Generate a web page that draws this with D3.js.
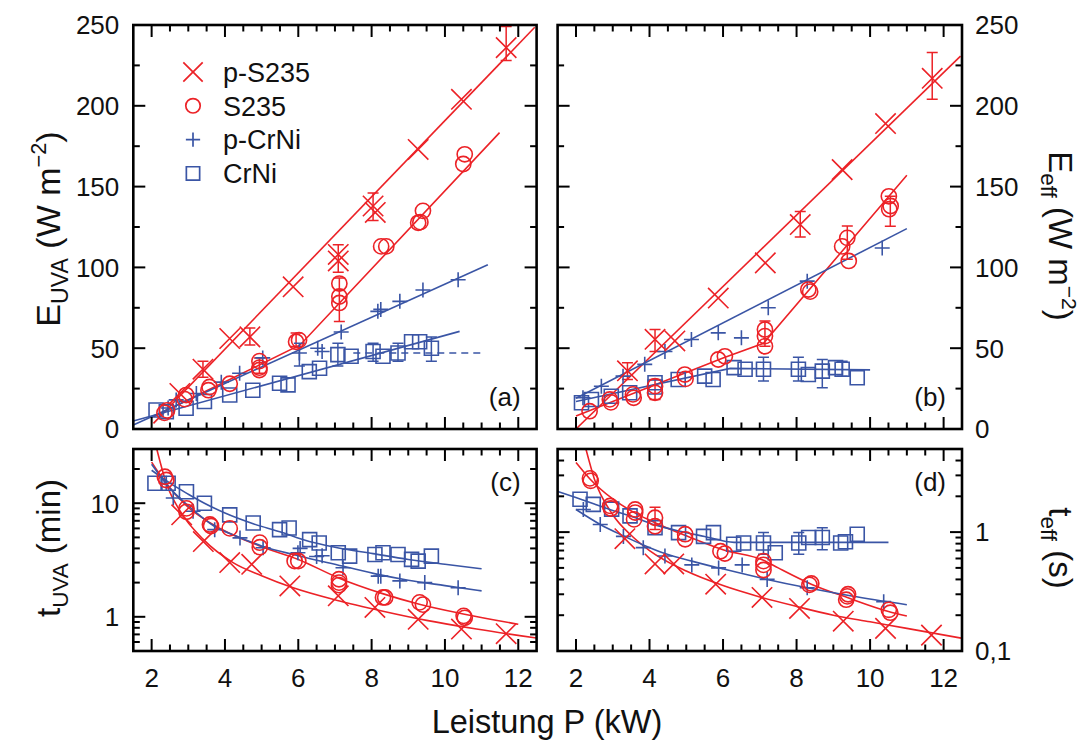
<!DOCTYPE html>
<html><head><meta charset="utf-8">
<script src="https://cdn.jsdelivr.net/npm/d3@7"></script>
<style>
body{margin:0;background:#fff}
svg{display:block}
text{font-family:"Liberation Sans",Arial,Helvetica,sans-serif;fill:#111}
</style>
</head><body>
<svg id="chart" width="1092" height="740"></svg>
<script>
// ---------------- DATA ----------------
const xTickLabels = [2,4,6,8,10,12];
const xMinorStep = 0.5;
const yLinTicks = [0,50,100,150,200,250];
const yLinMinor = [25,75,125,175,225];
const cLogMajor = [1,10], cLogMinor = [0.5,0.6,0.7,0.8,0.9,2,3,4,5,6,7,8,9,20,30];
const dLogMajor = [0.1,1], dLogMinor = [0.2,0.3,0.4,0.5,0.6,0.7,0.8,0.9,2,3,4,5];
const legendLabels = ["p-S235","S235","p-CrNi","CrNi"];

// panel (a): E_UVA
const aPS235 = [[2.77,22],[3.4,37],[4.13,56],[4.68,57],[5.86,88],[7.09,108],[7.09,104],[8.04,138],[8.1,134],[9.27,173],[10.45,204],[11.67,236]];
const aPS235Err = [[3.4,32,42],[4.68,52,62.5],[7.09,97,114],[8.04,129,146],[11.67,228,249]];
const aS235 = [[2.35,10],[2.42,11.5],[2.94,21],[2.9,18.5],[3.58,26],[3.55,24],[4.13,28],[4.94,42],[4.94,38],[4.94,36.5],[5.94,54],[6.02,55],[7.12,90],[7.12,82],[7.12,78],[8.26,113],[8.4,113],[9.27,127.6],[9.33,128],[9.4,135],[10.54,170],[10.5,164]];
const aS235Err = [[4.94,34.5,44],[5.94,51,59.4],[7.12,66.5,93.5]];
const aPCrNi = [[2.45,13],[2.67,18],[3.22,22],[3.9,29],[4.4,34.5],[5.03,44],[6.03,47],[6.53,50],[6.65,48],[7.17,60],[8.17,72.8],[8.25,74],[8.77,79],[9.4,86],[10.36,92.4]];
const aPCrNiErr = [[6.03,39,53]];
const aCrNi = [[2.12,11.8],[2.4,10.7],[2.94,12.8],[3.44,17],[4.13,21],[4.76,24],[5.49,28.3],[5.72,27.3],[6.3,35.5],[6.58,37.6],[7.08,46],[7.44,45],[8.04,48],[8.31,45],[8.72,47],[9.09,54],[9.31,54],[9.63,50]];
const aCrNiErr = [[7.08,39,53],[8.04,42,53],[8.72,42,53],[9.63,42,57]];
const aFitPS235 = [[2.05,3.5],[12.45,248.6]];
const aFitS235 = [[2.05,7.6],[6.05,52],[11.49,183.4]];
const aFitPCrNi = [[1.5,2.5],[11.17,101.7]];
const aFitCrNi = [[1.5,5],[10.4,60.4]];
const aFitCrNiDash = [[7.5,47],[11.0,47]];

// panel (b): E_eff
const bPS235 = [[3.4,36],[4.15,55.5],[4.69,54.5],[5.87,81],[7.15,102.8],[8.1,126.5],[9.24,160.5],[10.42,189],[11.69,217]];
const bPS235Err = [[3.4,30.7,41],[4.15,48,61.6],[8.1,118.8,134.6],[11.69,204,233]];
const bS235 = [[2.37,11],[2.92,18.3],[2.95,16.5],[3.55,21.4],[3.57,19.3],[4.15,26.5],[4.15,22.4],[4.96,33.7],[4.98,31],[5.87,43],[6.05,45],[7.14,61.6],[7.14,57.5],[7.14,51.2],[8.32,86.3],[8.37,85],[9.24,113],[9.38,118.3],[9.42,104],[10.51,144],[10.56,138],[10.52,136]];
const bS235Err = [[4.15,18.3,30.6],[7.14,51.2,66.9],[9.38,105,125.6],[10.55,125.5,144]];
const bPCrNi = [[2.19,19.3],[2.69,26.5],[3.28,32.7],[3.87,40],[4.42,48],[5.14,55.4],[5.87,59.5],[6.5,56.4],[7.23,75],[8.29,91.5],[10.33,112]];
const bCrNi = [[2.15,16.2],[2.42,18.3],[2.96,20.3],[3.46,22.4],[4.15,28.6],[4.15,26],[4.78,30.6],[5.5,32.7],[5.73,30.6],[6.3,38],[6.6,37],[7.1,37],[8.05,37],[8.32,33.7],[8.7,35.8],[9.06,38],[9.24,37],[9.65,31.7]];
const bCrNiErr = [[7.1,29.7,44.4],[8.05,29.7,44.4],[8.7,25.5,43],[9.24,32.7,42]];
const bFitPS235 = [[2.0,0],[12.46,230.7]];
const bFitS235 = [[2.0,8],[6.0,44],[7.1,53],[11.0,157]];
const bFitPCrNi = [[2.0,19],[11.0,124]];
const bFitCrNi = [[2.0,17],[6.2,37.5],[10.0,36.6]];

// panel (c): t_UVA (min)
const cPS235 = [[2.82,7.9],[3.41,4.6],[4.13,3.0],[4.73,2.9],[5.77,1.87],[7.09,1.53],[8.09,1.21],[9.27,0.95],[10.45,0.78],[11.67,0.71]];
const cS235 = [[2.36,17.1],[2.4,16],[2.95,9.0],[2.95,8.4],[3.59,6.5],[3.62,6.3],[4.13,6.0],[4.95,4.5],[4.95,4.1],[5.9,3.1],[6.0,3.1],[7.11,2.14],[7.11,1.9],[7.11,2.0],[8.31,1.48],[8.37,1.48],[9.31,1.34],[9.4,1.28],[10.51,1.02],[10.54,0.98]];
const cPCrNi = [[2.4,15],[2.59,11.1],[3.13,8.5],[3.72,5.85],[4.41,4.95],[5.04,4.05],[5.99,3.66],[6.05,4.0],[6.5,3.4],[6.65,3.45],[7.22,2.7],[8.18,2.28],[8.25,2.28],[8.77,2.07],[9.45,2.0],[10.36,1.8]];
const cCrNi = [[2.09,15],[2.45,15],[2.95,12.6],[3.44,10],[4.13,7.9],[4.77,6.7],[5.49,5.85],[5.75,6.05],[6.31,4.78],[6.57,4.47],[7.09,3.66],[7.4,3.42],[8.09,3.54],[8.31,3.66],[8.72,3.54],[9.09,3.2],[9.27,3.09],[9.63,3.42]];
const cFitPS235 = [[2.14,30],[2.4,15],[2.77,8.6],[3.41,4.8],[4.22,3.0],[5.0,2.3],[5.86,1.8],[7.04,1.4],[8.31,1.12],[9.5,0.93],[10.86,0.78],[12.5,0.65]];
const cFitS235 = [[2.0,23],[2.36,15.5],[2.95,9.5],[3.6,6.7],[4.95,4.2],[6.0,3.2],[7.1,2.2],[8.3,1.6],[9.3,1.29],[10.5,1.06],[12.0,0.86]];
const cFitPCrNi = [[2.0,22],[2.5,13.5],[3.0,9.5],[3.7,6.3],[4.4,5.0],[5.0,4.2],[6.0,3.45],[7.2,2.8],[8.2,2.35],[9.0,2.1],[10.0,1.88],[11.0,1.69]];
const cFitCrNi = [[2.0,19.5],[2.5,15],[3.0,12],[3.44,10],[4.0,8.2],[4.77,6.6],[5.5,5.6],[6.3,4.6],[7.0,4.1],[8.04,3.6],[9.0,3.2],[10.0,2.9],[11.0,2.65]];

// panel (d): t_eff (s)
const dPS235 = [[3.33,0.88],[4.15,0.54],[4.66,0.54],[5.8,0.365],[7.06,0.282],[8.08,0.228],[9.27,0.178],[10.42,0.155],[11.67,0.136]];
const dS235 = [[2.38,2.83],[2.4,2.7],[2.93,1.66],[2.95,1.58],[3.61,1.46],[3.61,1.55],[3.58,1.28],[4.15,1.32],[4.15,1.12],[4.97,0.96],[4.97,0.87],[5.93,0.69],[6.05,0.66],[7.1,0.57],[7.1,0.53],[7.1,0.48],[8.35,0.36],[8.4,0.37],[9.38,0.288],[9.35,0.27],[9.4,0.3],[10.51,0.222],[10.55,0.21]];
const dS235Err = [[4.15,1.05,1.62]];
const dPCrNi = [[2.2,1.55],[2.66,1.16],[3.29,0.92],[3.83,0.74],[4.42,0.63],[5.15,0.53],[5.88,0.5],[6.52,0.53],[7.2,0.4],[8.29,0.34],[10.37,0.26]];
const dCrNi = [[2.11,1.89],[2.47,1.71],[2.97,1.56],[3.47,1.37],[4.15,1.09],[4.79,0.99],[5.47,0.92],[5.74,0.99],[6.29,0.79],[6.56,0.81],[7.1,0.81],[7.42,0.67],[8.06,0.81],[8.33,0.9],[8.7,0.9],[9.2,0.81],[9.33,0.83],[9.65,0.96]];
const dCrNiErr = [[7.1,0.65,0.99],[8.06,0.65,0.99],[8.7,0.71,1.09]];
const dFitPS235 = [[2.27,5],[2.5,2.8],[3.0,1.4],[3.5,0.94],[4.0,0.7],[5.0,0.47],[6.0,0.355],[7.0,0.285],[8.0,0.237],[9.0,0.2],[10.0,0.176],[11.0,0.155],[12.5,0.128]];
const dFitS235 = [[2.0,3.85],[2.38,2.8],[3.0,1.9],[3.6,1.45],[4.15,1.2],[5.0,0.93],[6.0,0.71],[7.1,0.58],[7.5,0.5],[8.4,0.365],[9.4,0.28],[10.5,0.215],[11.0,0.197]];
const dFitPCrNi = [[2.0,1.55],[2.66,1.16],[3.29,0.93],[3.83,0.78],[4.42,0.66],[5.15,0.57],[6.0,0.49],[7.2,0.4],[8.29,0.34],[9.5,0.29],[11.0,0.245]];
const dFitCrNi = [[1.5,2.2],[2.11,1.9],[2.5,1.72],[3.0,1.52],[3.5,1.36],[4.15,1.15],[4.8,1.02],[5.5,0.92],[6.3,0.82],[10.5,0.82]];

// ---------------- DRAW ----------------
const RED = "#ec2227", BLUE = "#3a55a5";
const svg = d3.select("#chart");
const defs = svg.append("defs");

function symPath(type, x, y, s){
  if(type==="x"){const h=10.2*s;return `M${x-h},${y-h}L${x+h},${y+h}M${x-h},${y+h}L${x+h},${y-h}`;}
  if(type==="+"){const h=7.5*s;return `M${x-h},${y}L${x+h},${y}M${x},${y-h}L${x},${y+h}`;}
  if(type==="o"){const r=7.6*s;return `M${x-r},${y}a${r},${r} 0 1,0 ${2*r},0a${r},${r} 0 1,0 ${-2*r},0`;}
  if(type==="s"){const h=7*s;return `M${x-h},${y-h}H${x+h}V${y+h}H${x-h}Z`;}
}

function panel(id, px, py, yType, yDom, cfg){
  const xs = d3.scaleLinear().domain([1.5,12.5]).range(px);
  const ys = (yType==="lin"? d3.scaleLinear() : d3.scaleLog()).domain(yDom).range(py);
  const g = svg.append("g");
  defs.append("clipPath").attr("id","clip"+id).append("rect")
    .attr("x",px[0]).attr("y",py[1]).attr("width",px[1]-px[0]).attr("height",py[0]-py[1]);
  const plot = g.append("g").attr("clip-path",`url(#clip${id})`);
  const line = d3.line().x(d=>xs(d[0])).y(d=>ys(d[1]));
  const curve = d3.line().x(d=>xs(d[0])).y(d=>ys(d[1])).curve(d3.curveMonotoneX);
  (cfg.fits||[]).forEach(f=>{
    plot.append("path").datum(f.data).attr("d", f.smooth?curve:line)
      .attr("fill","none").attr("stroke",f.color).attr("stroke-width",1.6)
      .attr("stroke-dasharray", f.dash?"7,5":null);
  });
  (cfg.errs||[]).forEach(e=>{
    const eg = plot.append("g").attr("stroke",e.color).attr("stroke-width",1.5).attr("fill","none");
    eg.selectAll("path").data(e.data).join("path").attr("d",d=>{
      const x=xs(d[0]), y0=ys(d[1]), y1=ys(d[2]);
      return `M${x},${y0}V${y1}M${x-5.5},${y0}H${x+5.5}M${x-5.5},${y1}H${x+5.5}`;
    });
  });
  (cfg.series||[]).forEach(s=>{
    plot.append("g").selectAll("path").data(s.data).join("path")
      .attr("d",d=>symPath(s.type, xs(d[0]), ys(d[1]), 1))
      .attr("fill","none").attr("stroke",s.color).attr("stroke-width",1.6);
  });
  // ticks
  const tg = g.append("g").attr("stroke","#000").attr("stroke-width",2);
  const xt = d3.range(2, 12.001, xMinorStep);
  xt.forEach(v=>{
    const L = xTickLabels.includes(v)?12:6.5, x=xs(v);
    tg.append("line").attr("x1",x).attr("x2",x).attr("y1",py[0]).attr("y2",py[0]-L);
    tg.append("line").attr("x1",x).attr("x2",x).attr("y1",py[1]).attr("y2",py[1]+L);
  });
  cfg.yMajor.concat(cfg.yMinor).forEach(v=>{
    const L = cfg.yMajor.includes(v)?12:6.5, y=ys(v);
    tg.append("line").attr("x1",px[0]).attr("x2",px[0]+L).attr("y1",y).attr("y2",y);
    tg.append("line").attr("x1",px[1]).attr("x2",px[1]-L).attr("y1",y).attr("y2",y);
  });
  g.append("rect").attr("x",px[0]).attr("y",py[1]).attr("width",px[1]-px[0]).attr("height",py[0]-py[1])
    .attr("fill","none").attr("stroke","#000").attr("stroke-width",2.6);
  // y labels
  const lab = g.append("g").attr("font-size",26);
  cfg.yLabels.forEach(v=>{
    lab.append("text").attr("x", cfg.labelSide==="left"? px[0]-14 : px[1]+13)
      .attr("y", ys(v)).attr("dy","0.36em")
      .attr("text-anchor", cfg.labelSide==="left"?"end":"start")
      .text(cfg.fmt? cfg.fmt(v) : v);
  });
  if(cfg.xLabels){
    xTickLabels.forEach(v=>{
      lab.append("text").attr("x",xs(v)).attr("y",687).attr("text-anchor","middle").text(v);
    });
  }
  g.append("text").attr("x",px[1]-16).attr("y",cfg.tagY).attr("text-anchor","end")
    .attr("font-size",26).text(cfg.tag);
  return {xs, ys};
}

panel("a",[133.3,536.6],[429,25],"lin",[0,250],{
  yMajor:yLinTicks, yMinor:yLinMinor, yLabels:yLinTicks, labelSide:"left", tag:"(a)", tagY:406,
  fits:[{data:aFitPS235,color:RED},{data:aFitS235,color:RED},{data:aFitPCrNi,color:BLUE},{data:aFitCrNi,color:BLUE},{data:aFitCrNiDash,color:BLUE,dash:true}],
  errs:[{data:aPS235Err,color:RED},{data:aS235Err,color:RED},{data:aPCrNiErr,color:BLUE},{data:aCrNiErr,color:BLUE}],
  series:[{data:aCrNi,type:"s",color:BLUE},{data:aPCrNi,type:"+",color:BLUE},{data:aS235,type:"o",color:RED},{data:aPS235,type:"x",color:RED}]
});
panel("b",[557.6,962],[429,25],"lin",[0,250],{
  yMajor:yLinTicks, yMinor:yLinMinor, yLabels:yLinTicks, labelSide:"right", tag:"(b)", tagY:406,
  fits:[{data:bFitPS235,color:RED},{data:bFitS235,color:RED},{data:bFitPCrNi,color:BLUE},{data:bFitCrNi,color:BLUE}],
  errs:[{data:bPS235Err,color:RED},{data:bS235Err,color:RED},{data:bCrNiErr,color:BLUE}],
  series:[{data:bCrNi,type:"s",color:BLUE},{data:bPCrNi,type:"+",color:BLUE},{data:bS235,type:"o",color:RED},{data:bPS235,type:"x",color:RED}]
});
panel("c",[133.3,536.6],[651,449],"log",[0.5,30],{
  yMajor:cLogMajor, yMinor:cLogMinor, yLabels:cLogMajor, labelSide:"left", tag:"(c)", tagY:491, xLabels:true,
  fits:[{data:cFitPS235,color:RED,smooth:true},{data:cFitS235,color:RED,smooth:true},{data:cFitPCrNi,color:BLUE,smooth:true},{data:cFitCrNi,color:BLUE,smooth:true}],
  errs:[],
  series:[{data:cCrNi,type:"s",color:BLUE},{data:cPCrNi,type:"+",color:BLUE},{data:cS235,type:"o",color:RED},{data:cPS235,type:"x",color:RED}]
});
panel("d",[557.6,962],[651,449],"log",[0.1,5],{
  yMajor:dLogMajor, yMinor:dLogMinor, yLabels:dLogMajor, labelSide:"right", tag:"(d)", tagY:491, xLabels:true,
  fmt:v=> v===0.1?"0,1":String(v),
  fits:[{data:dFitPS235,color:RED,smooth:true},{data:dFitS235,color:RED,smooth:true},{data:dFitPCrNi,color:BLUE,smooth:true},{data:dFitCrNi,color:BLUE,smooth:true}],
  errs:[{data:dS235Err,color:RED},{data:dCrNiErr,color:BLUE}],
  series:[{data:dCrNi,type:"s",color:BLUE},{data:dPCrNi,type:"+",color:BLUE},{data:dS235,type:"o",color:RED},{data:dPS235,type:"x",color:RED}]
});

// legend
const legTypes = ["x","o","+","s"], legColors=[RED,RED,BLUE,BLUE];
const lg = svg.append("g");
legendLabels.forEach((t,i)=>{
  const y = 72 + i*33.8;
  lg.append("path").attr("d",symPath(legTypes[i],193,y,0.95)).attr("fill","none")
    .attr("stroke",legColors[i]).attr("stroke-width",1.7);
  lg.append("text").attr("x",223).attr("y",y).attr("dy","0.36em").attr("font-size",27).text(t);
});

// axis titles
function vTitle(x, y, rot, fs, main, sub, rest, sup, tail){
  const t = svg.append("text").attr("transform",`translate(${x},${y}) rotate(${rot})`)
    .attr("text-anchor","middle").attr("font-size",fs);
  t.append("tspan").text(main);
  t.append("tspan").attr("font-size",fs*0.68).attr("dy",fs*0.24).text(sub);
  t.append("tspan").attr("dy",-fs*0.24).text(rest);
  if(sup){
    t.append("tspan").attr("font-size",fs*0.64).attr("dy",-fs*0.4).text(sup);
    t.append("tspan").attr("dy",fs*0.4).text(tail);
  }
}
vTitle(60,229,-90,34,"E","UVA"," (W m","\u22122",")");
vTitle(1049,236,90,33,"E","eff"," (W m","\u22122",")");
vTitle(60,548,-90,33,"t","UVA"," (min)");
vTitle(1049,548,90,33,"t","eff"," (s)");
svg.append("text").attr("x",547).attr("y",733).attr("text-anchor","middle")
  .attr("font-size",32.5).text("Leistung P (kW)");
</script>
</body></html>
